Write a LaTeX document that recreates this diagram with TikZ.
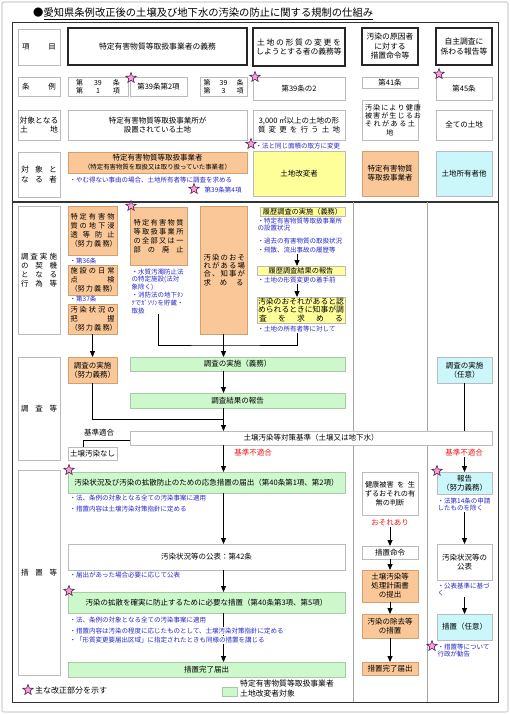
\documentclass[tikz,border=0pt]{standalone}
\usepackage{fontspec}
\setmainfont{Noto Sans CJK JP}
\usetikzlibrary{arrows.meta,shapes.geometric,calc}
\definecolor{orf}{HTML}{FAC898}
\definecolor{orb}{HTML}{D4A070}
\definecolor{yef}{HTML}{FFFF99}
\definecolor{cyf}{HTML}{CCF7FA}
\definecolor{grf}{HTML}{CCF8CC}
\definecolor{grb}{HTML}{A8C8A8}
\definecolor{bxb}{HTML}{BBBBBB}
\definecolor{bl}{HTML}{2828C8}
\definecolor{rd}{HTML}{F01818}
\definecolor{pk}{HTML}{F8A0D8}
\definecolor{pkb}{HTML}{502050}
\newcommand\spr[2]{\makebox[#1][s]{#2}}
\newcommand\ftx{\fontsize{7.5}{9}\selectfont}
\newcommand\fnt{\fontsize{6.5}{7.8}\selectfont}
\newcommand\mybox[6]{\node[#1, minimum width={(#4-(#2))*1pt}, minimum height={(#5-(#3))*1pt}] (#6) at ({((#2)+(#4))/2},{((#3)+(#5))/2})}
\tikzset{
 gbox/.style={draw=bxb, line width=0.7pt, fill=white, inner sep=0.8pt, outer sep=0pt, align=center, font=\ftx},
 dbox/.style={gbox, draw=black!85, line width=1.4pt, font=\fontsize{7.8}{9.5}\selectfont},
 obox/.style={gbox, fill=orf, draw=orb},
 ybox/.style={gbox, fill=yef},
 cbox/.style={gbox, fill=cyf},
 grbox/.style={gbox, fill=grf, draw=grb},
 note/.style={text=bl, font=\fnt, inner sep=0.5pt, align=left, anchor=west},
 rnote/.style={text=rd, font=\ftx, inner sep=0.5pt},
 arr/.style={draw=black, line width=0.8pt, -{Triangle[width=5pt,length=6pt]}},
 ln/.style={draw=black, line width=0.8pt},
 starm/.style={star, star points=5, star point ratio=2.4, minimum size=11pt, inner sep=0pt, fill=pk, draw=pkb, line width=0.6pt},
}
\begin{document}
\begin{tikzpicture}[x=1pt,y=-1pt]
\useasboundingbox (0,0) rectangle (510,714);
\fill[white] (0,0) rectangle (510,714);
\draw[gray!35, line width=1.2pt, rounded corners=2pt] (2,2) rectangle (508,712);
\node[anchor=west, font=\fontsize{10.3}{12}\selectfont, inner sep=0pt] (title) at (33,14) {●\underline{愛知県条例改正後の土壌及び地下水の汚染の防止に関する規制の仕組み}};
\draw[black!80, line width=1pt] (12,23) rectangle (498,702);
\draw[black!80, line width=1.6pt] (12,202) -- (498,202);
\draw[gray!70, line width=0.7pt] (353,202) -- (353,702);
\draw[gray!70, line width=0.7pt] (427,202) -- (427,702);

% header row 1
\mybox{gbox}{18}{29}{60}{65}{L1}{\spr{34pt}{項 目}};
\mybox{dbox}{68}{28}{247}{65}{H1}{特定有害物質等取扱事業者の義務};
\mybox{dbox}{253}{28}{345}{66}{H2}{\spr{84pt}{土 地 の 形 質 の 変 更 を}\\しようとする者の義務等};
\mybox{dbox}{362}{28}{418}{65}{H3}{汚染の原因者\\に対する\\措置命令等};
\mybox{dbox}{436}{28}{492}{65}{H4}{自主調査に\\係わる報告等};
% row 2
\mybox{gbox}{18}{77}{60}{96}{L2}{\spr{34pt}{条 例}};
\mybox{gbox, font=\fontsize{7}{7.8}\selectfont}{68}{77}{128}{96}{A1}{\spr{44pt}{第 39 条}\\\spr{44pt}{第 1 項}};
\mybox{gbox}{130}{77}{187}{96}{A2}{第39条第2項};
\mybox{gbox, font=\fontsize{7}{7.8}\selectfont}{200}{77}{247}{96}{A3}{\spr{40pt}{第 39 条}\\\spr{40pt}{第 3 項}};
\mybox{gbox}{253}{77}{345}{100}{A4}{第39条の2};
\mybox{gbox}{362}{77}{418}{88}{A5}{第41条};
\mybox{gbox}{436}{77}{492}{100}{A6}{第45条};
\node[starm] (S1) at (131,78) {};
\node[starm] (S2) at (255,77) {};
\node[starm] (S3) at (439,74) {};
% row 3
\mybox{gbox, font=\fontsize{7.8}{9.5}\selectfont}{18}{110}{60}{140}{L3}{対象となる\\\spr{38pt}{土 地}};
\mybox{gbox}{68}{110}{247}{140}{B1}{特定有害物質等取扱事業所が\\設置されている土地};
\mybox{gbox}{253}{110}{345}{140}{B2}{3,000 ㎡以上の土地の形\\\spr{82pt}{質 変 更 を 行 う 土 地}};
\mybox{gbox, font=\fontsize{7.1}{8.3}\selectfont}{362}{100}{418}{140}{B3}{\spr{50pt}{汚 染 に よ り 健 康}\\\spr{50pt}{被 害 が 生 じ る お}\\\spr{50pt}{そ れ が あ る 土}\\地};
\mybox{gbox}{436}{110}{492}{140}{B4}{全ての土地};
\node[starm] (S4) at (251,144) {};
\node[note] (T0) at (255,146) {・法と同じ面積の取方に変更};
% row 4
\mybox{gbox, font=\fontsize{7.8}{9.5}\selectfont}{18}{152}{60}{197}{L4}{\spr{36pt}{対 象 と}\\\spr{36pt}{な る 者}};
\mybox{obox}{68}{152}{247}{173}{C1}{特定有害物質等取扱事業者\\{\fontsize{6.4}{7.5}\selectfont （特定有害物質を取扱又は取り扱っていた事業者）}};
\node[note] (T1) at (69,180) {・やむ得ない事由の場合、土地所有者等に調査を求める};
\node[starm] (S5) at (194,189) {};
\node[note] (T1b) at (204,190) {第39条第4項};
\mybox{ybox}{253}{151}{345}{196}{C2}{土地改変者};
\mybox{obox}{362}{151}{418}{196}{C3}{特定有害物質\\等取扱事業者};
\mybox{cbox}{436}{151}{492}{196}{C4}{土地所有者他};

% lower section, left labels
\mybox{gbox}{18}{206}{60}{334}{L5}{\spr{36pt}{調 査 実 施}\\\spr{36pt}{の 契 機}\\\spr{36pt}{と な る}\\\spr{36pt}{行 為 等}};
\mybox{gbox}{18}{357}{60}{460}{L6}{\spr{36pt}{調 査 等}};
\mybox{gbox}{18}{470}{60}{675}{L7}{\spr{36pt}{措 置 等}};

% column 1 top
\mybox{obox, font=\fontsize{7.2}{9}\selectfont}{68}{206}{117}{255}{D1}{\spr{44pt}{特 定 有 害 物}\\\spr{44pt}{質 の 地 下 浸}\\\spr{44pt}{透 等 防 止}\\\spr{44pt}{（努 力 義 務）}};
\node[note] (T36) at (69,261) {・第36条};
\mybox{obox, font=\fontsize{7.2}{9}\selectfont}{68}{265}{117}{295}{D2}{\spr{44pt}{施 設 の 日 常}\\\spr{44pt}{点 検}\\\spr{44pt}{（努 力 義 務）}};
\node[note] (T37) at (69,299) {・第37条};
\mybox{obox, font=\fontsize{7.2}{9}\selectfont}{68}{304}{117}{334}{D3}{\spr{44pt}{汚 染 状 況 の}\\\spr{44pt}{把 握}\\\spr{44pt}{（努 力 義 務）}};
\mybox{obox, font=\fontsize{7.2}{9}\selectfont}{130}{207}{187}{265}{D4}{\spr{50pt}{特 定 有 害 物 質}\\\spr{50pt}{等 取 扱 事 業 所}\\\spr{50pt}{の 全 部 又 は 一}\\\spr{50pt}{部 の 廃 止}};
\node[starm] (S6) at (131,206) {};
\node[note, anchor=north west] (T2) at (131,268) {・水質汚濁防止法\\の特定施設(法対\\象除く)\\・消防法の地下ﾀﾝ\\ｸでｶﾞｿﾘﾝを貯蔵・\\取扱};
\mybox{obox, font=\fontsize{7.4}{8.2}\selectfont}{200}{206}{247}{334}{D5}{\spr{40pt}{汚 染 の お そ}\\\spr{40pt}{れ が あ る 場}\\\spr{40pt}{合 、 知 事 が}\\\spr{40pt}{求 め る}};

% column 2 top
\mybox{ybox, font=\fontsize{7.2}{8}\selectfont}{260}{207}{345}{216}{Y1}{履歴調査の実施（義務）};
\node[note, anchor=north west] (T3a) at (257,217) {・特定有害物質等取扱事業所\\の設置状況};
\node[note] (T3b) at (257,241) {・過去の有害物質の取扱状況};
\node[note] (T3c) at (257,250) {・飛散、流出事故の履歴等};
\mybox{ybox, font=\fontsize{7.2}{8}\selectfont}{257}{266}{345}{275}{Y2}{履歴調査結果の報告};
\node[note] (T4) at (257,280) {・土地の形質変更の着手前};
\mybox{ybox, font=\fontsize{7.8}{8.4}\selectfont}{257}{297}{345}{323}{Y3}{汚染のおそれがあると認\\められるときに知事が調\\\spr{84pt}{査 を 求 め る}};
\node[note] (T5) at (257,329) {・土地の所有者等に対して};

% survey
\mybox{grbox}{130}{357}{345}{371}{G1}{調査の実施（義務）};
\mybox{grbox}{130}{393}{345}{408}{G2}{調査結果の報告};
\mybox{obox}{68}{357}{117}{383}{E1}{調査の実施\\（努力義務）};
\mybox{cbox}{437}{357}{492}{383}{V1}{調査の実施\\（任意）};
\mybox{gbox}{130}{431}{492}{445}{K}{土壌汚染等対策基準（土壌又は地下水）};
\node[font=\ftx, inner sep=0.5pt] (KT) at (99,433) {基準適合};
\mybox{gbox}{68}{447}{117}{460}{N}{土壌汚染なし};
\node[rnote] (R1) at (253,453) {基準不適合};
\node[rnote] (R2) at (464,453) {基準不適合};

% measures column 1
\mybox{grbox}{68}{472}{345}{493}{F1}{汚染状況及び汚染の拡散防止のための応急措置の届出（第40条第1項、第2項）};
\node[starm] (S7) at (69,470) {};
\node[note] (T6) at (69,498) {・法、条例の対象となる全ての汚染事案に適用};
\node[note] (T7) at (69,509) {・措置内容は土壌汚染対策指針に定める};
\mybox{gbox}{68}{544}{345}{570}{P1}{汚染状況等の公表：第42条};
\node[note] (T8) at (69,575) {・届出があった場合必要に応じて公表};
\mybox{grbox}{68}{592}{345}{613}{F2}{汚染の拡散を確実に防止するために必要な措置（第40条第3項、第5項）};
\node[starm] (S8) at (69,591) {};
\mybox{grbox}{68}{662}{345}{677}{F3}{措置完了届出};

% column 3
\mybox{gbox, font=\fontsize{7.2}{9}\selectfont}{362}{472}{418}{515}{Q1}{\spr{50pt}{健康被害 を 生}\\ずるおそれの有\\無の判断};
\node[rnote] (R3) at (390,523) {おそれあり};
\mybox{gbox}{362}{546}{418}{559}{Q2}{措置命令};
\mybox{obox}{362}{570}{418}{602}{Q3}{土壌汚染等\\処理計画書\\の提出};
\mybox{obox}{362}{614}{418}{638}{Q4}{汚染の除去等\\の措置};
\mybox{obox}{362}{662}{418}{675}{Q5}{措置完了届出};

% column 4
\mybox{cbox}{437}{472}{492}{494}{V2}{報告\\（努力義務）};
\node[starm] (S9) at (437,471) {};
\node[note, anchor=north west] (T12) at (437,497) {・法第14条の申請\\したものを除く};
\mybox{gbox}{437}{544}{492}{580}{V3}{汚染状況等の\\公表};
\node[note, anchor=north west] (T13) at (437,582) {・公表基準に基づ\\く};
\mybox{cbox}{437}{614}{492}{640}{V4}{措置（任意）};
\node[note, anchor=north west] (T14) at (437,643) {・措置等について\\行政が勧告};
\node[starm] (S10) at (432,646) {};

% legend
\node[starm] (S11) at (28,690) {};
\node[anchor=west, font=\fontsize{8}{10}\selectfont, inner sep=0pt] (LT1) at (35,690) {主な改正部分を示す};
\mybox{grbox}{222}{687}{237}{696}{LG}{};
\node[anchor=north west, font=\fontsize{7.8}{10}\selectfont, align=left, inner sep=0pt] (LT2) at (240,680) {特定有害物質等取扱事業者\\土地改変者対象};

% connectors
\coordinate (cx2) at (297,0);
\coordinate (c158) at (158,0);
\coordinate (c83) at (83,0);
\coordinate (j0) at (223,345);
\coordinate (j1) at (223,419);
\draw[arr] (T3c.south -| cx2) -- (Y2.north -| cx2);
\draw[arr] (T4.south -| cx2) -- (Y3.north -| cx2);
\draw[ln] (T2.south -| c158) |- (j0) -| (T5.south -| cx2);
\draw[arr] (D5.south) -- (D5.south |- G1.north);
\draw[arr] (D5.south |- G1.south) -- (D5.south |- G2.north);
\draw[arr] (D3.south) -- (E1.north);
\draw[ln] (E1.south) |- (j1);
\draw[arr] (D5.south |- G2.south) -- (D5.south |- K.north);
\draw[ln] ($(K.west)+(0,2)$) -| (N.north -| c83);
\draw[ln] (V1.south) -- (V1.south |- K.north);
\draw[arr] (D5.south |- K.south) -- (D5.south |- F1.north);
\draw[arr] (D5.south |- F1.south) -- (D5.south |- P1.north);
\draw[arr] (D5.south |- P1.south) -- (D5.south |- F2.north);
\draw[arr] (D5.south |- F2.south) -- (D5.south |- F3.north);
\draw[arr] (R3.south) -- (Q2.north);
\draw[arr] (Q2.south) -- (Q3.north);
\draw[arr] (Q3.south) -- (Q4.north);
\draw[arr] (Q4.south) -- (Q5.north);
\draw[arr] (R2.south -| V2.north) -- (V2.north);
\draw[arr] (T12.south -| V2.south) -- (V3.north);
\draw[arr] (T13.south -| V3.south) -- (V4.north);
% notes over the F2-F3 connector
\node[note] (T9) at (69,620) {・法、条例の対象となる全ての汚染事案に適用};
\node[note, fill=white] (T10) at (69,631) {・措置内容は汚染の程度に応じたものとして、土壌汚染対策指針に定める};
\node[note, fill=white] (T11) at (69,640) {・「形質変更要届出区域」に指定されたときも同様の措置を講じる};
\end{tikzpicture}
\end{document}
